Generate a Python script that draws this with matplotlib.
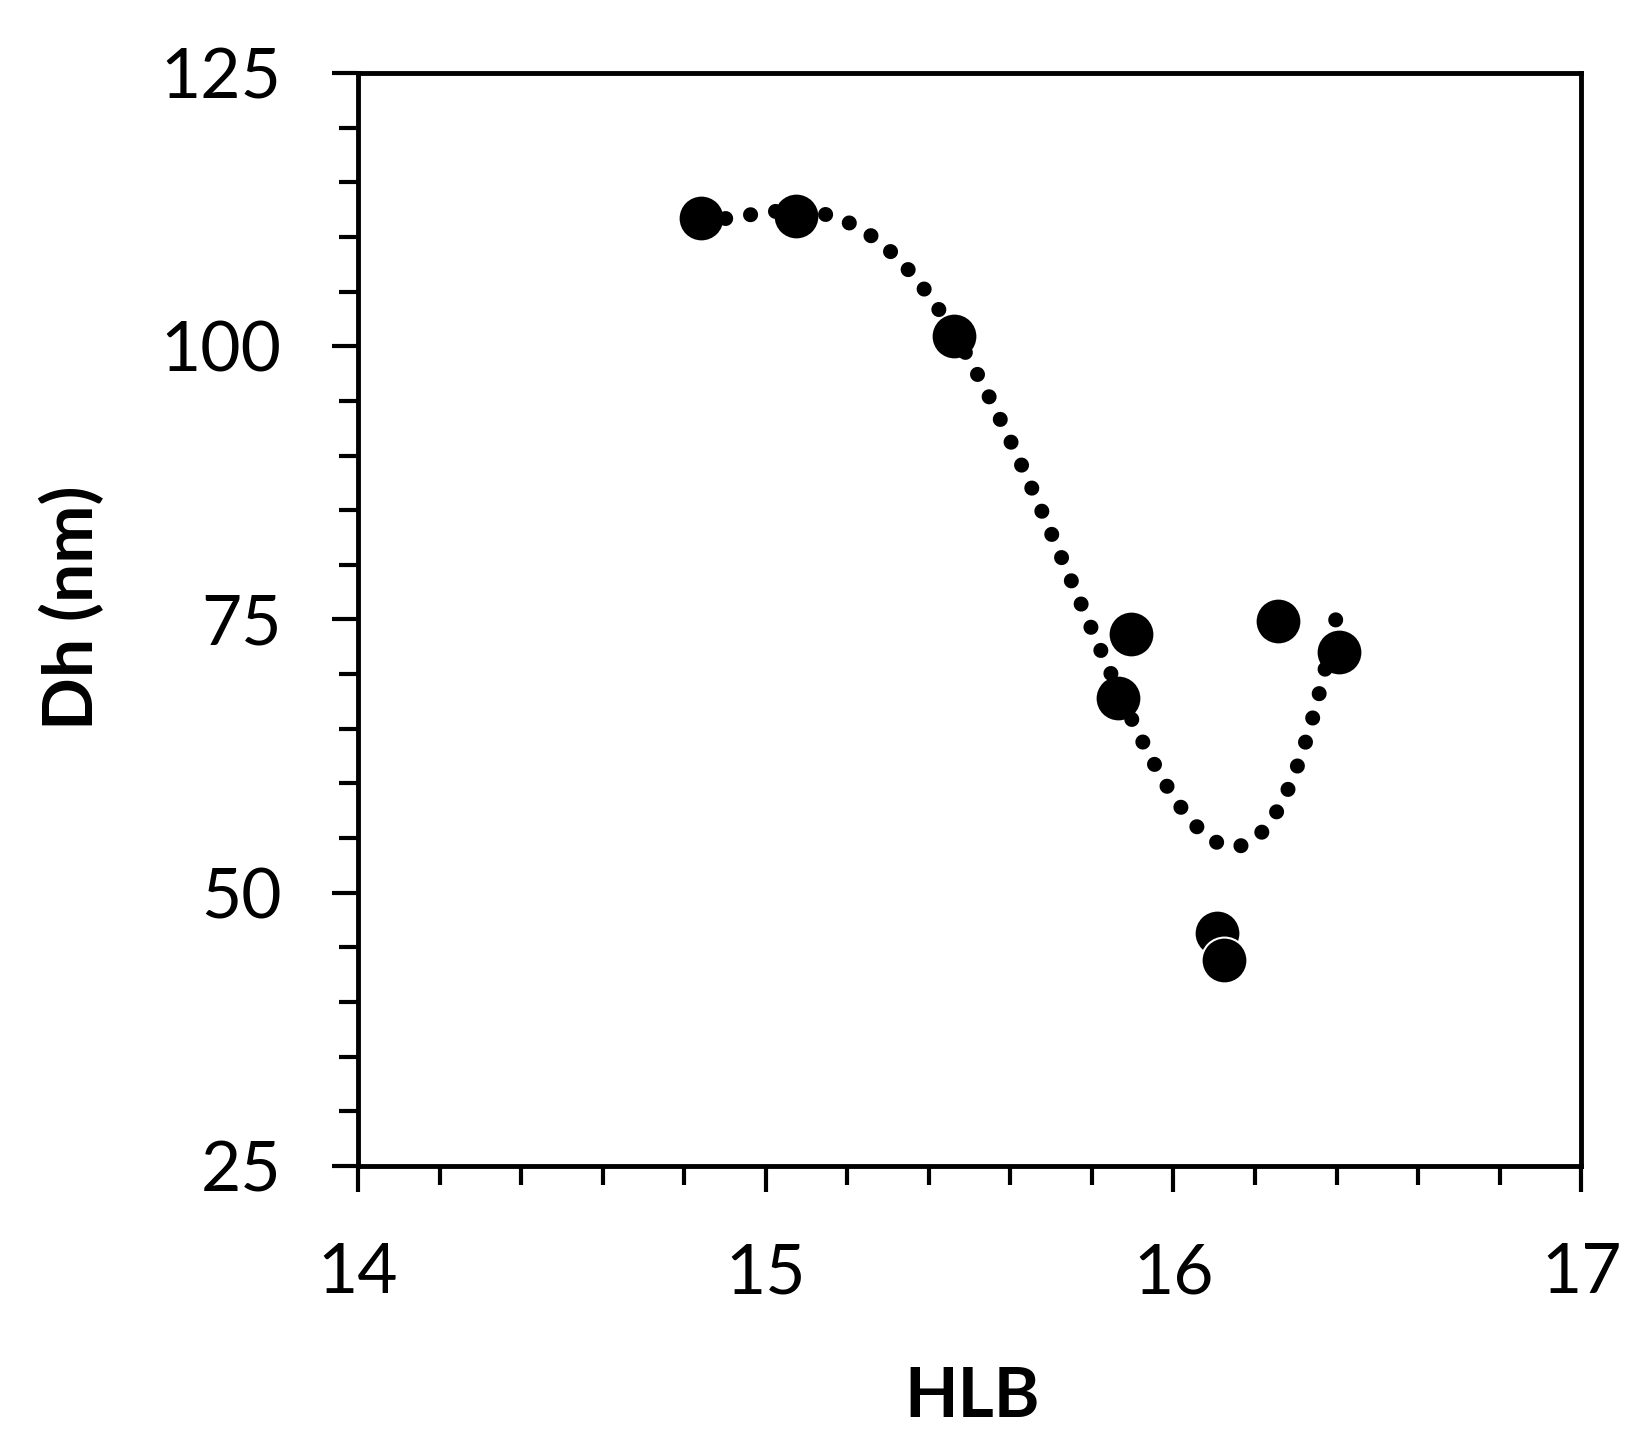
import numpy as np
import matplotlib
matplotlib.use("Agg")
import matplotlib.pyplot as plt
from matplotlib.ticker import MultipleLocator

# HLB vs hydrodynamic diameter
hlb = [14.84, 15.074, 15.462, 15.895, 15.864, 16.106, 16.123, 16.257, 16.407]
dh = [111.7, 111.9, 100.9, 73.7, 67.8, 46.3, 43.8, 74.9, 72.0]

plt.rcParams["font.family"] = ["Lato", "DejaVu Sans"]

fig = plt.figure(figsize=(16.47, 14.4), dpi=100)
ax = fig.add_axes([0.2174, 0.1903, 0.7426, 0.759])

# 4th order polynomial trendline, as in the spreadsheet original
coef = np.polyfit(hlb, dh, 4)
xs = np.linspace(min(hlb), max(hlb), 400)
ax.plot(xs, np.polyval(coef, xs), color="black", lw=10.8,
        linestyle=(0, (0.01, 1.67)), dash_capstyle="round", zorder=4)

ax.plot(hlb, dh, linestyle="none", marker="o", markersize=33,
        markerfacecolor="black", markeredgecolor="white", markeredgewidth=1.5,
        zorder=3)

ax.set_xlim(14, 17)
ax.set_ylim(25, 125)
ax.xaxis.set_major_locator(MultipleLocator(1))
ax.xaxis.set_minor_locator(MultipleLocator(0.2))
ax.yaxis.set_major_locator(MultipleLocator(25))
ax.yaxis.set_minor_locator(MultipleLocator(5))

for s in ax.spines.values():
    s.set_linewidth(3.5)
ax.tick_params(which="major", direction="out", length=19, width=3,
               labelsize=50, pad=36)
ax.tick_params(which="minor", direction="out", length=13.5, width=3)

ax.set_xlabel("HLB", fontsize=50, fontweight="bold")
ax.set_ylabel("Dh (nm)", fontsize=50, fontweight="bold")
ax.xaxis.set_label_coords(0.502, -0.183)
ax.yaxis.set_label_coords(-0.207, 0.511)

fig.savefig("out.png", dpi=100)
